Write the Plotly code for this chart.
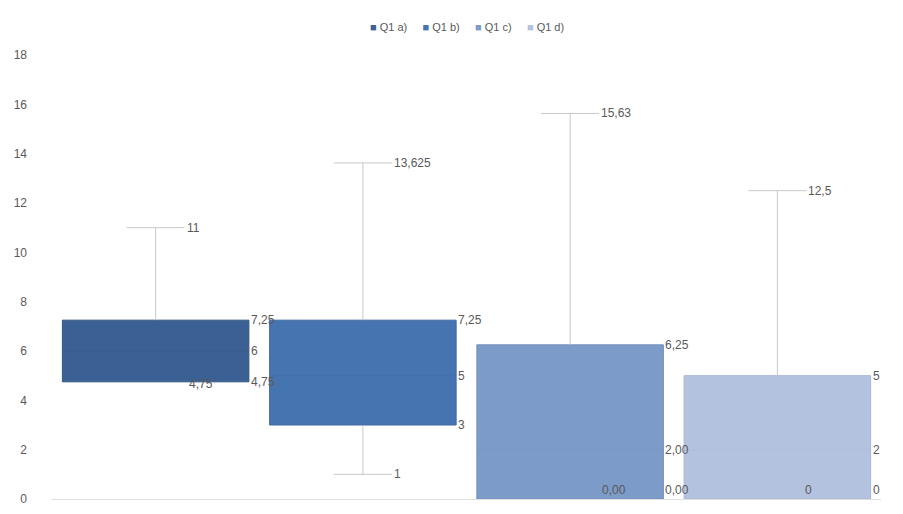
import plotly.graph_objects as go

# ---- data ----
categories = ["Q1 a)", "Q1 b)", "Q1 c)", "Q1 d)"]
q_min = [4.75, 1, 0, 0]
q1 = [4.75, 3, 0, 0]
median = [6, 5, 2, 2]
q3 = [7.25, 7.25, 6.25, 5]
q_max = [11, 13.625, 15.63, 12.5]
label_fmt = ["{:g}", "{:g}", "{:.2f}", "{:g}"]
y_ticks = [0, 2, 4, 6, 8, 10, 12, 14, 16, 18]

# ---- style ----
colors = ["#3B6093", "#4674B1", "#7C9BC8", "#B2C2DF"]
edge = ["#35577f", "#3f69a0", "#7290bd", "#a7b7d4"]
txt = "#595959"
whisk = "#c8c8c8"
bar_w = 0.9
cap = 0.14
inside_off = [0.22, 0.0, 0.21, 0.15]

fmt = lambda i, v: label_fmt[i].format(v).replace(".", ",")

fig = go.Figure()
xs = list(range(len(categories)))

for i, c in enumerate(categories):
    fig.add_trace(go.Bar(
        x=[xs[i]], y=[q3[i] - q1[i]], base=[q1[i]], width=bar_w, name=c,
        marker=dict(color=colors[i], line=dict(color=edge[i], width=1)),
        showlegend=False, hoverinfo="skip"))

annotations = []
for i in xs:
    cx = xs[i]
    fig.add_trace(go.Scatter(x=[cx, cx, None, cx - cap, cx + cap], y=[q3[i], q_max[i], None, q_max[i], q_max[i]],
                             mode="lines", line=dict(color=whisk, width=1), showlegend=False, hoverinfo="skip"))
    annotations.append(dict(x=cx + cap, y=q_max[i], text=fmt(i, q_max[i]), xanchor="left", yanchor="middle"))
    if q_min[i] < q1[i]:
        fig.add_trace(go.Scatter(x=[cx, cx, None, cx - cap, cx + cap], y=[q1[i], q_min[i], None, q_min[i], q_min[i]],
                                 mode="lines", line=dict(color=whisk, width=1), showlegend=False, hoverinfo="skip"))
        annotations.append(dict(x=cx + cap, y=q_min[i], text=fmt(i, q_min[i]), xanchor="left", yanchor="middle"))
    fig.add_trace(go.Scatter(x=[cx - bar_w / 2, cx + bar_w / 2], y=[median[i], median[i]], mode="lines",
                             line=dict(color=edge[i], width=1), opacity=0.2, showlegend=False, hoverinfo="skip"))
    right = cx + bar_w / 2
    for v in (q3[i], median[i], q1[i]):
        annotations.append(dict(x=right, y=v, text=fmt(i, v), xanchor="left",
                                yanchor="bottom" if v == 0 else "middle"))
    if q_min[i] >= q1[i]:
        annotations.append(dict(x=cx + inside_off[i], y=q1[i], text=fmt(i, q1[i]), xanchor="center",
                                yanchor="bottom" if q1[i] == 0 else "middle", yshift=-2 if q1[i] else 0))

for a in annotations:
    a.update(xref="x", yref="y", showarrow=False, font=dict(color=txt, size=12))

# legend drawn as a text line with coloured squares
sep = "&nbsp;" * 5
legend_txt = sep.join(f'<span style="color:{colors[i]}">■</span>&nbsp;{c}' for i, c in enumerate(categories))
annotations.append(dict(x=0.5, y=1.0, xref="paper", yref="paper", yshift=28, showarrow=False,
                        text=legend_txt, font=dict(size=11, color=txt), xanchor="center", yanchor="middle"))

fig.update_layout(
    width=903, height=514,
    margin=dict(l=52, r=22, t=55, b=8),
    paper_bgcolor="white", plot_bgcolor="white",
    font=dict(family="Liberation Sans, Arial, sans-serif", color=txt, size=12),
    barmode="overlay",
    showlegend=False,
    annotations=annotations,
    xaxis=dict(range=[-0.5, 3.5], showticklabels=False, showgrid=False, zeroline=False,
               showline=True, linecolor="#e0e0e0", ticks=""),
    yaxis=dict(range=[0, 18], tickvals=y_ticks, showgrid=False, zeroline=False, showline=False,
               ticks="", ticklabelstandoff=24, tickfont=dict(size=12, color=txt)),
)

fig.write_html("out.html")
